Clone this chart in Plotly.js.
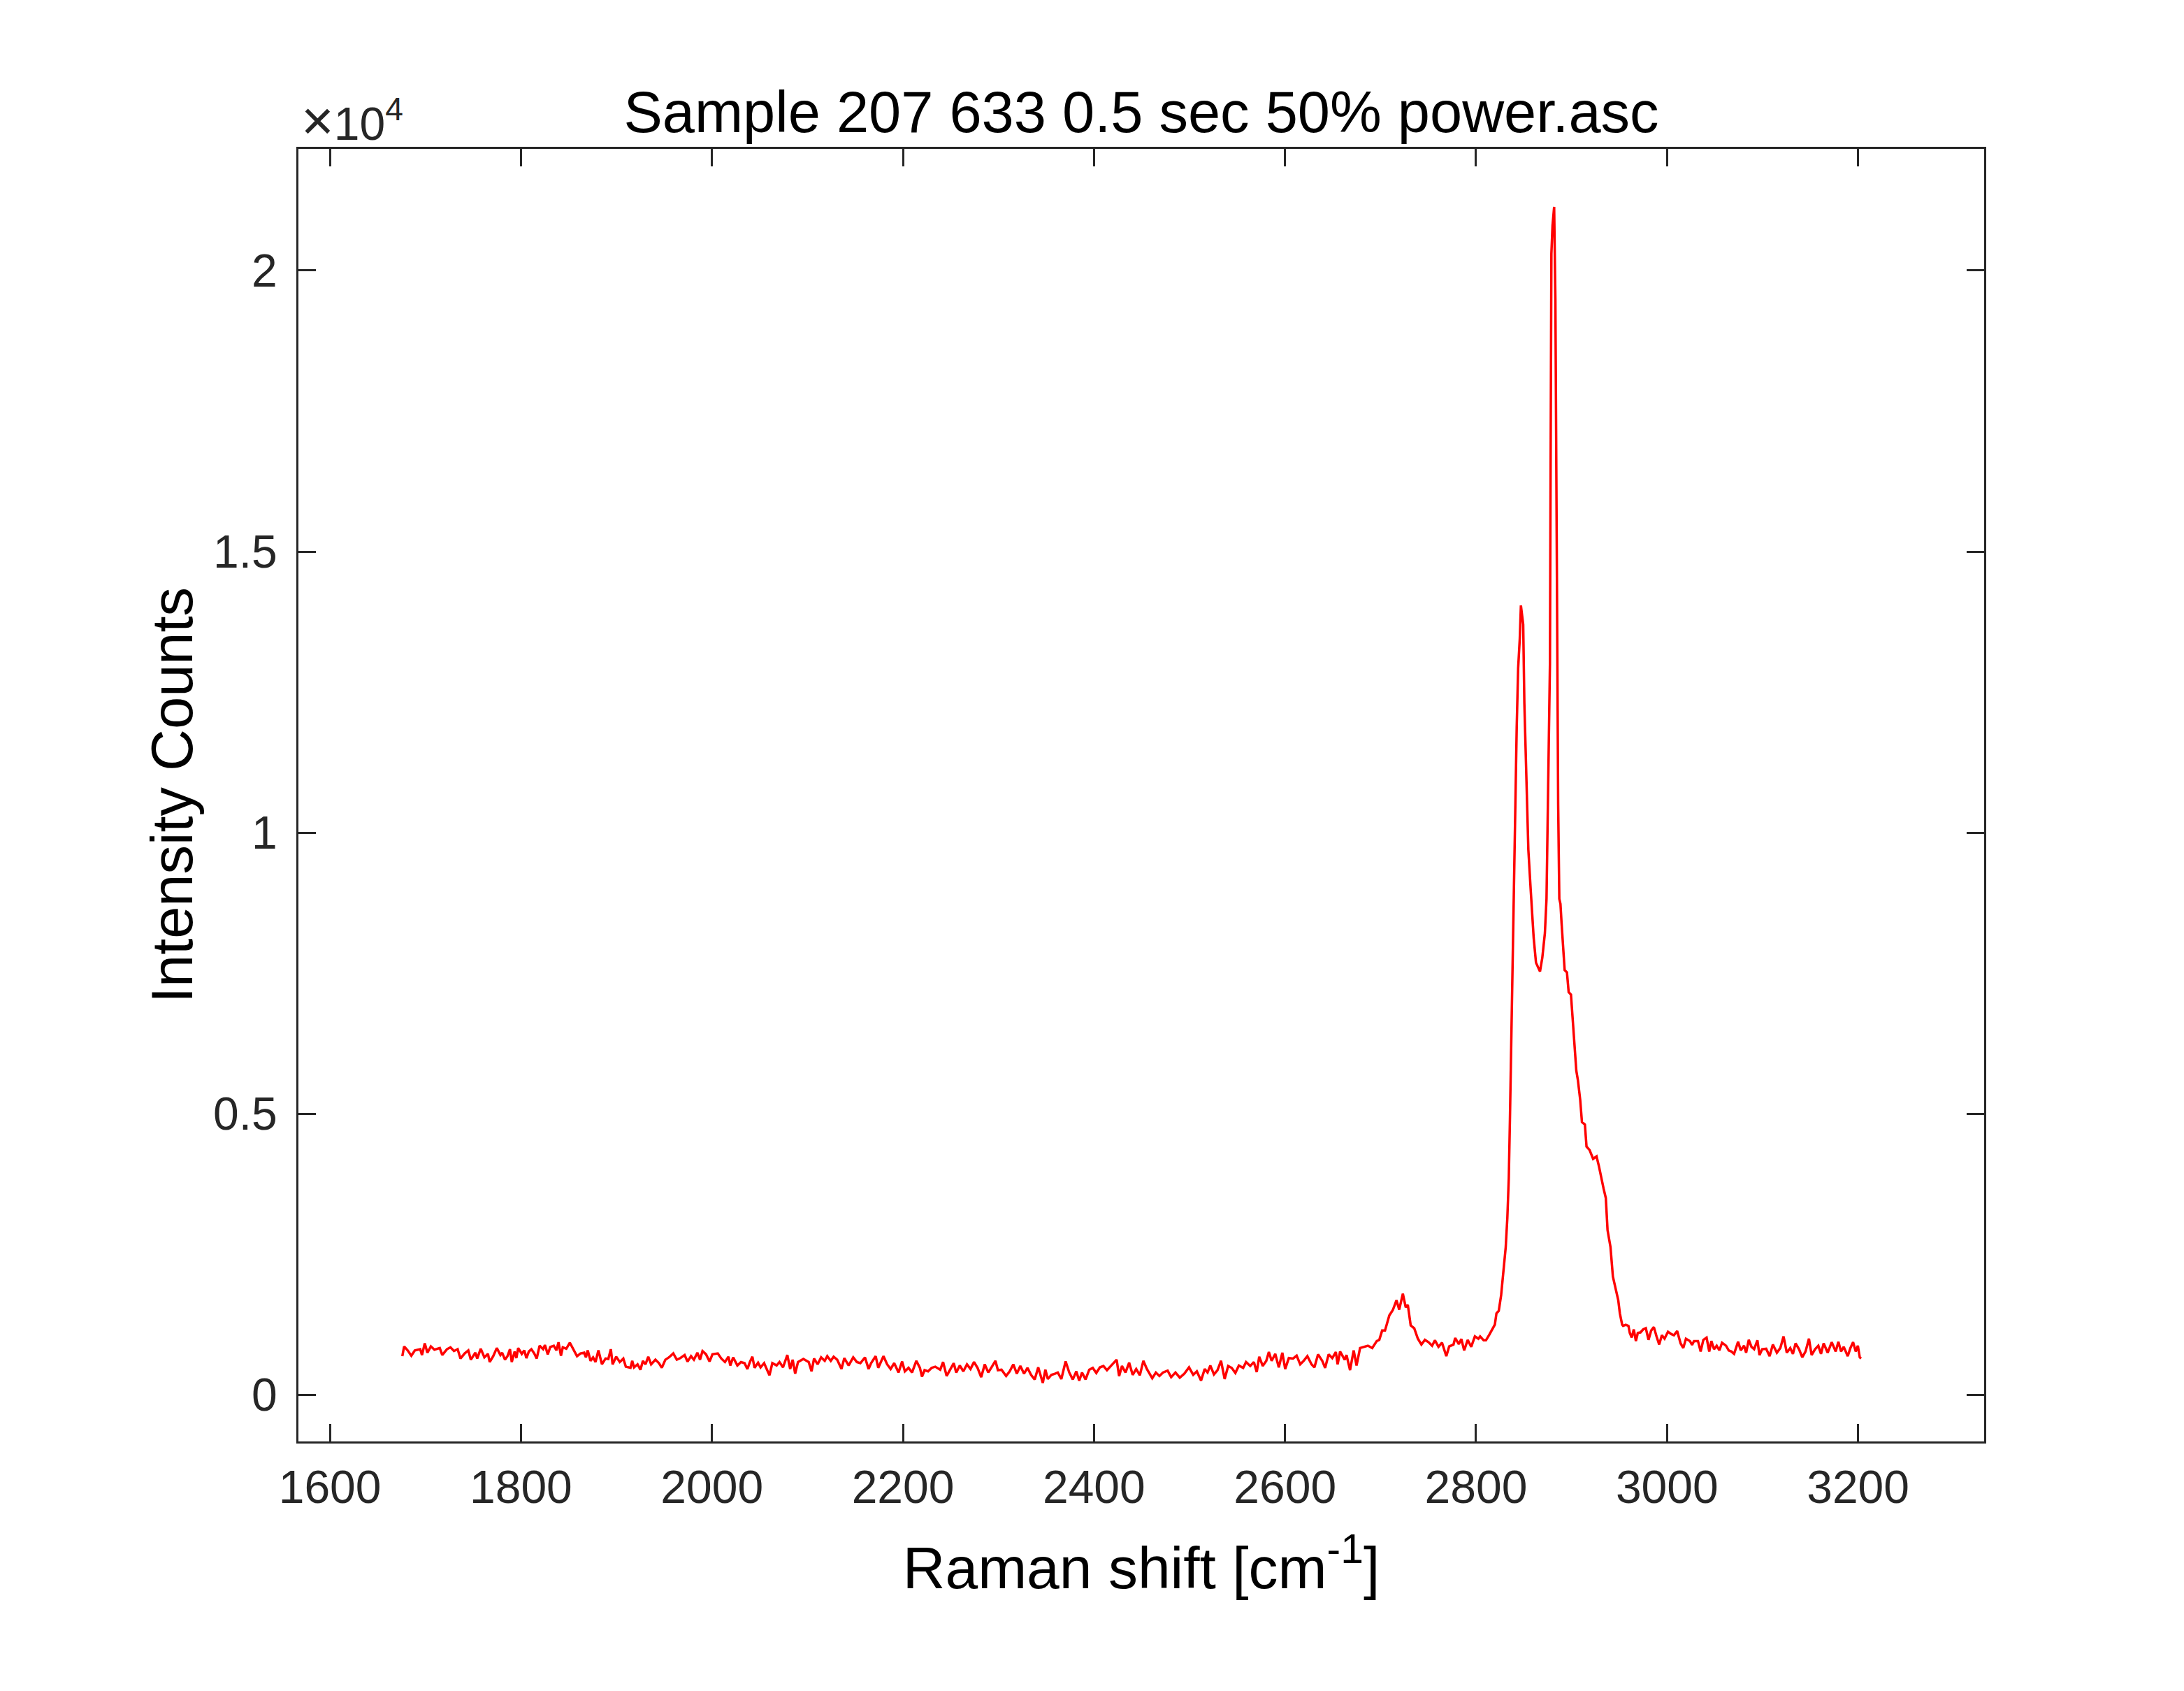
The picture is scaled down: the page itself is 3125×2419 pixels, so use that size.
<!DOCTYPE html>
<html>
<head>
<meta charset="utf-8">
<script src="https://cdn.plot.ly/plotly-3.0.1.min.js"></script>
<style>
  html, body { margin: 0; padding: 0; background: #fff; }
  #spectrum { width: 3125px; height: 2419px; }
</style>
</head>
<body>
<div id="spectrum"></div>
<script>
// spectrum, split by region
const shiftLow = [
  1675.8,1677.7,1681.4,1685.2,1688.9,1694.5,1696.4,1699.3,1702.0,1705.7,
  1709.4,1715.0,1717.6,1722.5,1726.2,1729.9,1733.7,1736.7,1741.1,1744.9,
  1747.5,1752.3,1754.2,1757.9,1761.7,1765.4,1767.3,1771.0,1774.7,1778.5,
  1780.3,1783.3,1785.9,1788.5,1790.4,1793.4,1795.2,1797.1,1800.9,1803.5,
  1805.7,1808.3,1810.9,1813.9,1816.5,1819.5,1823.2,1825.1,1828.1,1830.7,
  1834.4,1837.1,1839.3,1841.9,1843.8,1847.5,1851.2,1855.0,1858.7,1862.4,
  1866.2,1868.0,1869.9,1872.9,1875.5,1878.1,1881.1,1884.8,1888.6,1891.5,
  1894.1,1896.0,1899.7,1903.5,1907.2,1909.8,1914.7,1916.5,1918.4,1922.1,
  1925.1,1927.7,1930.4,1933.3,1936.3,1940.8,1944.5,1947.5,1951.2,1955.0,
  1959.5,1963.2,1966.9,1971.4,1974.4,1978.1,1981.1,1984.8,1987.5,1990.1,
  1993.8,1997.5,2000.5,2006.1,2009.8,2013.6,2017.3,2019.2,2022.2,2026.6,
  2030.4,2034.1,2037.1,2039.7,2042.3,2044.6,2048.3,2050.9,2054.6,2060.2,
  2063.2,2067.7,2070.7,2074.4,2078.9,2081.9,2084.5,2087.1,2090.1,2095.7,
  2101.3,2104.3,2106.9,2110.6,2114.3,2118.1,2120.7,2124.4,2127.4,2131.1,
  2135.6,2138.6,2143.1,2147.9,2151.7,2155.4,2160.2,2164.0,2166.6,2171.4,
  2174.1,2179.6,2183.4,2187.1,2190.8,2195.3,2199.1,2202.0,2205.8,2209.5,
  2214.0,2217.7,2219.9,2222.6,2226.3,2230.0,2233.8
];
const countLow = [
  684,858,787,692,787,808,704,912,746,858,
  800,829,704,808,841,775,808,642,733,787,
  621,746,642,816,663,725,580,684,829,704,
  746,621,684,808,580,767,650,829,725,787,
  650,767,808,733,642,870,808,882,717,849,
  870,787,932,692,841,816,924,808,684,733,
  746,663,787,601,663,580,787,539,642,634,
  808,539,675,580,642,497,477,601,485,539,
  443,601,539,675,539,621,560,477,621,663,
  733,621,650,704,589,684,621,746,621,775,
  717,589,717,733,642,580,675,518,663,518,
  580,560,456,580,675,477,568,485,560,344,
  560,518,580,485,704,456,621,373,580,634,
  580,414,642,539,663,601,684,601,675,621,
  456,650,518,663,580,560,663,456,560,684,
  477,684,539,456,560,394,589,414,477,394,
  601,477,319,435,414,477,497
];

const shiftMid = [
  2239.0,2242.0,2245.7,2249.4,2253.1,2255.8,2259.5,2263.2,2267.0,2270.7,
  2274.4,2278.1,2281.9,2285.6,2289.3,2293.1,2296.8,2299.4,2303.2,2308.0,
  2311.7,2315.5,2319.2,2322.9,2326.7,2330.4,2334.1,2337.9,2341.6,2346.4,
  2349.1,2351.7,2355.4,2359.1,2362.1,2365.8,2370.3,2374.1,2377.8,2381.5,
  2384.5,2387.5,2391.2,2395.0,2398.7,2402.4,2406.2,2409.9,2413.6,2418.1,
  2421.1,2423.7,2426.3,2429.3,2433.0,2436.8,2440.5,2444.2,2448.0,2451.7,
  2455.4,2461.0,2464.8,2468.5,2472.2,2477.1,2480.8,2485.3,2489.8,2494.6,
  2499.5,2503.9,2507.7,2512.1,2515.9,2518.9,2521.8,2525.6,2529.3,2533.0,
  2536.8,2540.5,2544.2,2548.0,2551.7,2556.2,2559.2,2563.6,2567.4,2570.4,
  2573.0,2576.7,2580.4,2583.1,2586.0,2589.8,2593.5,2597.2,2600.2,2604.0,
  2608.4,2612.2,2615.9,2619.6,2623.4,2627.8,2630.8,2634.6,2639.0,2642.0,
  2645.7,2649.5,2653.2,2655.1,2657.7,2662.5,2664.4,2668.1,2671.9,2674.9,
  2678.6,2683.1,2686.8,2691.3,2696.1,2698.7,2701.7,2704.7,2709.2,2712.9,
  2716.7,2719.6,2723.4,2726.4,2728.6,2731.6,2735.3,2739.1,2742.8,2746.5,
  2750.3,2754.0,2757.0,2760.7,2764.4,2768.9,2771.9,2776.4,2778.2,2782.0,
  2784.6,2787.6,2791.3,2795.0,2798.8,2802.5
];
const countMid = [
  443,580,331,435,559,393,518,414,539,456,
  580,476,310,539,393,497,601,435,443,331,
  414,539,373,509,373,476,352,269,485,207,
  443,277,352,373,393,277,592,393,269,414,
  248,393,269,443,476,385,485,509,435,518,
  568,621,331,509,393,568,352,456,344,601,
  456,290,393,331,393,427,310,393,302,373,
  485,352,414,248,456,393,518,360,435,601,
  277,509,476,385,518,476,580,509,580,402,
  675,509,601,758,601,725,485,746,456,650,
  642,692,539,601,684,539,485,717,601,476,
  717,650,758,539,767,621,704,435,787,518,
  829,850,870,829,953,974,1140,1140,1409,1505,
  1679,1513,1795,1554,1596,1231,1181,995,891,974,
  933,870,966,850,924,684,858,891,1007,899,
  990,787,974,850,1036,995
];

// C-H stretch band
const shiftPeak = [
  2804.3,2808.0,2810.4,2814.1,2816.5,2819.7,2821.4,2823.8,2826.3,2828.7,
  2831.1,2832.8,2834.3,2835.5,2837.2,2839.2,2840.9,2842.6,2844.1,2845.8,
  2847.0,2849.4,2850.6,2853.1,2854.8,2857.2,2860.4,2862.8,2865.3,2867.0,
  2869.4,2872.1,2873.8,2875.0,2876.2,2877.4,2878.2,2878.9,2880.1,2881.8,
  2883.1,2884.0,2885.0,2886.0,2887.2,2888.4,2889.6,2890.9,2892.8,2895.2,
  2897.0,2899.4,2901.8,2903.5,2905.0,2906.7,2909.1,2910.9,2914.0,2915.7,
  2918.9,2922.6,2926.2,2928.7,2931.1,2933.5,2935.9,2937.7,2940.8,2943.3,
  2946.2,2948.9,2950.6,2953.0
];
const countPeak = [
  1036,966,966,1071,1141,1245,1446,1490,1769,2232,
  2624,3148,3846,4893,6638,8383,10128,11874,12921,13445,
  14040,13706,12310,10827,9692,8994,8122,7685,7598,7528,
  7773,8209,8820,10128,11874,13000,17000,20300,20800,21132,
  19500,16000,13000,10500,8820,8732,8383,8034,7554,7511,
  7162,7118,6551,6202,5765,5591,5242,4849,4806,4413,
  4352,4195,4238,4064,3846,3671,3497,2930,2624,2101,
  1882,1682,1446,1245
];

const shiftHigh = [
  2954.0,2956.8,2959.6,2961.0,2963.0,2965.2,2967.4,2969.4,2972.2,2975.0,
  2977.8,2980.6,2983.4,2986.2,2989.0,2991.8,2994.6,2997.4,3001.0,3004.4,
  3007.2,3010.6,3014.2,3017.0,3019.8,3024.0,3026.2,3028.2,3032.4,3035.2,
  3038.0,3041.4,3044.2,3046.4,3049.2,3052.0,3054.8,3057.6,3061.8,3064.6,
  3067.4,3070.2,3074.4,3077.2,3080.6,3082.8,3085.6,3088.4,3091.2,3094.6,
  3096.8,3099.6,3103.8,3107.4,3110.8,3115.0,3118.6,3122.0,3125.4,3129.0,
  3131.8,3134.6,3138.2,3141.6,3145.0,3148.6,3151.4,3155.0,3158.4,3161.2,
  3164.0,3168.2,3172.4,3176.6,3179.4,3182.2,3185.0,3189.2,3192.0,3194.8,
  3197.6,3199.8,3201.8,3203.2
];
const countHigh = [
  1223,1243,1223,1098,1015,1160,953,1098,1107,1160,
  1181,974,1140,1202,1036,891,1057,995,1119,1077,
  1057,1131,912,829,995,953,883,953,953,767,
  974,1015,767,953,808,870,787,924,870,787,
  767,725,941,787,870,746,974,850,808,966,
  704,808,816,684,891,746,829,1036,746,829,
  725,912,808,663,767,995,704,808,870,725,
  912,746,933,767,941,767,850,684,829,933,
  767,870,663,642
];

const xTicks = [1600, 1800, 2000, 2200, 2400, 2600, 2800, 3000, 3200];
const yTicks = [0, 5000, 10000, 15000, 20000];
const yTickText = ['0', '0.5', '1', '1.5', '2'];

const shift = shiftLow.concat(shiftMid, shiftPeak, shiftHigh);
const counts = countLow.concat(countMid, countPeak, countHigh);

const axisGrey = '#262626';
const fontFam = 'Liberation Sans, Arial, Helvetica, sans-serif';

const trace = {
  x: shift,
  y: counts,
  type: 'scatter',
  mode: 'lines',
  line: { color: '#ff0000', width: 3.5 },
  hoverinfo: 'skip'
};

function axisBase() {
  return {
    showgrid: false,
    zeroline: false,
    showline: true,
    linecolor: axisGrey,
    linewidth: 3,
    mirror: 'ticks',
    ticks: 'inside',
    ticklen: 25,
    tickwidth: 3,
    tickcolor: axisGrey,
    tickfont: { family: fontFam, size: 66, color: axisGrey }
  };
}

const xaxis = Object.assign(axisBase(), {
  range: [1567, 3332],
  tickmode: 'array',
  tickvals: xTicks,
  ticklabelstandoff: 6,
  title: { text: 'Raman shift [cm<sup>-1</sup>]', font: { family: fontFam, size: 84, color: '#000' }, standoff: 50 }
});

const yaxis = Object.assign(axisBase(), {
  range: [-833, 22164],
  tickmode: 'array',
  tickvals: yTicks,
  ticktext: yTickText,
  ticklabelstandoff: 14,
  title: { text: 'Intensity Counts', font: { family: fontFam, size: 83, color: '#000' }, standoff: 2 }
});

const layout = {
  width: 3125,
  height: 2419,
  margin: { l: 427, r: 286, t: 213, b: 357, pad: 0 },
  paper_bgcolor: '#ffffff',
  plot_bgcolor: '#ffffff',
  showlegend: false,
  font: { family: fontFam, color: axisGrey },
  title: {
    text: 'Sample 207 633 0.5 sec 50% power.asc',
    font: { family: fontFam, size: 83, color: '#000' },
    xref: 'paper', x: 0.5, xanchor: 'center',
    yref: 'container', y: 0.934, yanchor: 'middle'
  },
  xaxis: xaxis,
  yaxis: yaxis,
  annotations: [{
    text: '<span style="font-size:80px">×</span>10<sup>4</sup>',
    xref: 'paper', yref: 'paper', x: 0, y: 1,
    xanchor: 'left', yanchor: 'bottom',
    xshift: 2, yshift: -6,
    showarrow: false,
    font: { family: fontFam, size: 66, color: axisGrey }
  }]
};

Plotly.newPlot('spectrum', [trace], layout, { displayModeBar: false, staticPlot: true });
</script>
</body>
</html>
